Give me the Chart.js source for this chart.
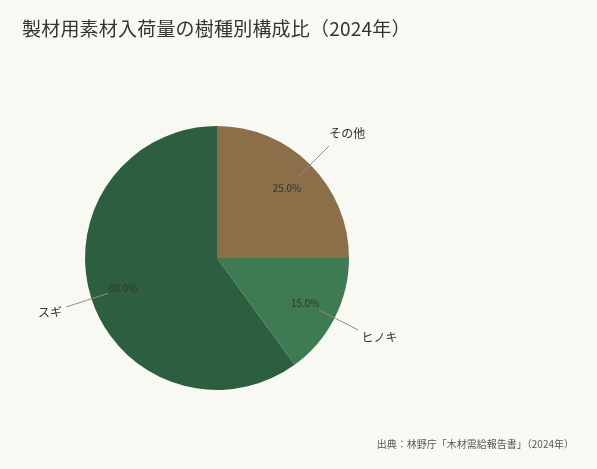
<!DOCTYPE html>
<html lang="ja">
<head>
<meta charset="utf-8">
<script src="https://cdn.jsdelivr.net/npm/chart.js@4"></script>
<style>
  html, body { margin: 0; padding: 0; background: #f9f9f4; }
  #wrap { position: relative; width: 597px; height: 469px; font-family: "Noto Sans CJK JP", "Noto Sans", sans-serif; }
  #title { position: absolute; left: 22px; top: 14px; font-size: 19px; color: #333; letter-spacing: 0.2px; }
  #source { position: absolute; right: 23px; top: 436px; font-size: 10px; color: #555; }
  canvas { position: absolute; left: 0; top: 0; }
</style>
</head>
<body>
<div id="wrap">
  <canvas id="pie" width="597" height="469"></canvas>
  <div id="title">製材用素材入荷量の樹種別構成比（2024年）</div>
  <div id="source">出典：林野庁「木材需給報告書」（2024年）</div>
</div>
<script>
// data
const species = ['その他', 'ヒノキ', 'スギ'];
const shares = [25.0, 15.0, 60.0];
const sliceColors = ['#8a6f48', '#3e7b52', '#2d5e3f'];

// labels outside + percentages inside, placed from each arc's own geometry
const pieLabels = {
  id: 'pieLabels',
  afterDatasetsDraw(chart) {
    const ctx = chart.ctx;
    const arcs = chart.getDatasetMeta(0).data;
    ctx.save();
    arcs.forEach((arc, i) => {
      const { x, y, startAngle, endAngle, outerRadius } = arc.getProps(['x', 'y', 'startAngle', 'endAngle', 'outerRadius'], true);
      const mid = (startAngle + endAngle) / 2;
      const cos = Math.cos(mid), sin = Math.sin(mid);
      const r = outerRadius;

      // leader line
      ctx.strokeStyle = '#8c8c8c';
      ctx.lineWidth = 1;
      ctx.beginPath();
      ctx.moveTo(x + cos * r * 0.87, y + sin * r * 0.87);
      ctx.lineTo(x + cos * r * 1.2, y + sin * r * 1.2);
      ctx.stroke();

      ctx.textAlign = 'center';
      ctx.textBaseline = 'middle';

      // percentage
      ctx.fillStyle = '#333';
      ctx.font = '10px "Noto Sans CJK JP", "Noto Sans", sans-serif';
      ctx.fillText(shares[i].toFixed(1) + '%', x + cos * r * 0.75, y + sin * r * 0.75);

      // category
      const nudge = cos > 0 ? 6 : 0;
      ctx.fillStyle = '#333';
      ctx.font = '12px "Noto Sans CJK JP", "Noto Sans", sans-serif';
      ctx.fillText(species[i], x + cos * r * 1.33 + nudge, y + sin * r * 1.33);
    });
    ctx.restore();
  }
};

new Chart(document.getElementById('pie').getContext('2d'), {
  type: 'pie',
  data: {
    labels: species,
    datasets: [{
      data: shares,
      backgroundColor: sliceColors,
      borderWidth: 0
    }]
  },
  options: {
    responsive: false,
    animation: false,
    layout: { padding: { left: 85, right: 248, top: 126, bottom: 79 } },
    plugins: {
      legend: { display: false },
      tooltip: { enabled: false },
      title: { display: false }
    }
  },
  plugins: [pieLabels]
});
</script>
</body>
</html>
